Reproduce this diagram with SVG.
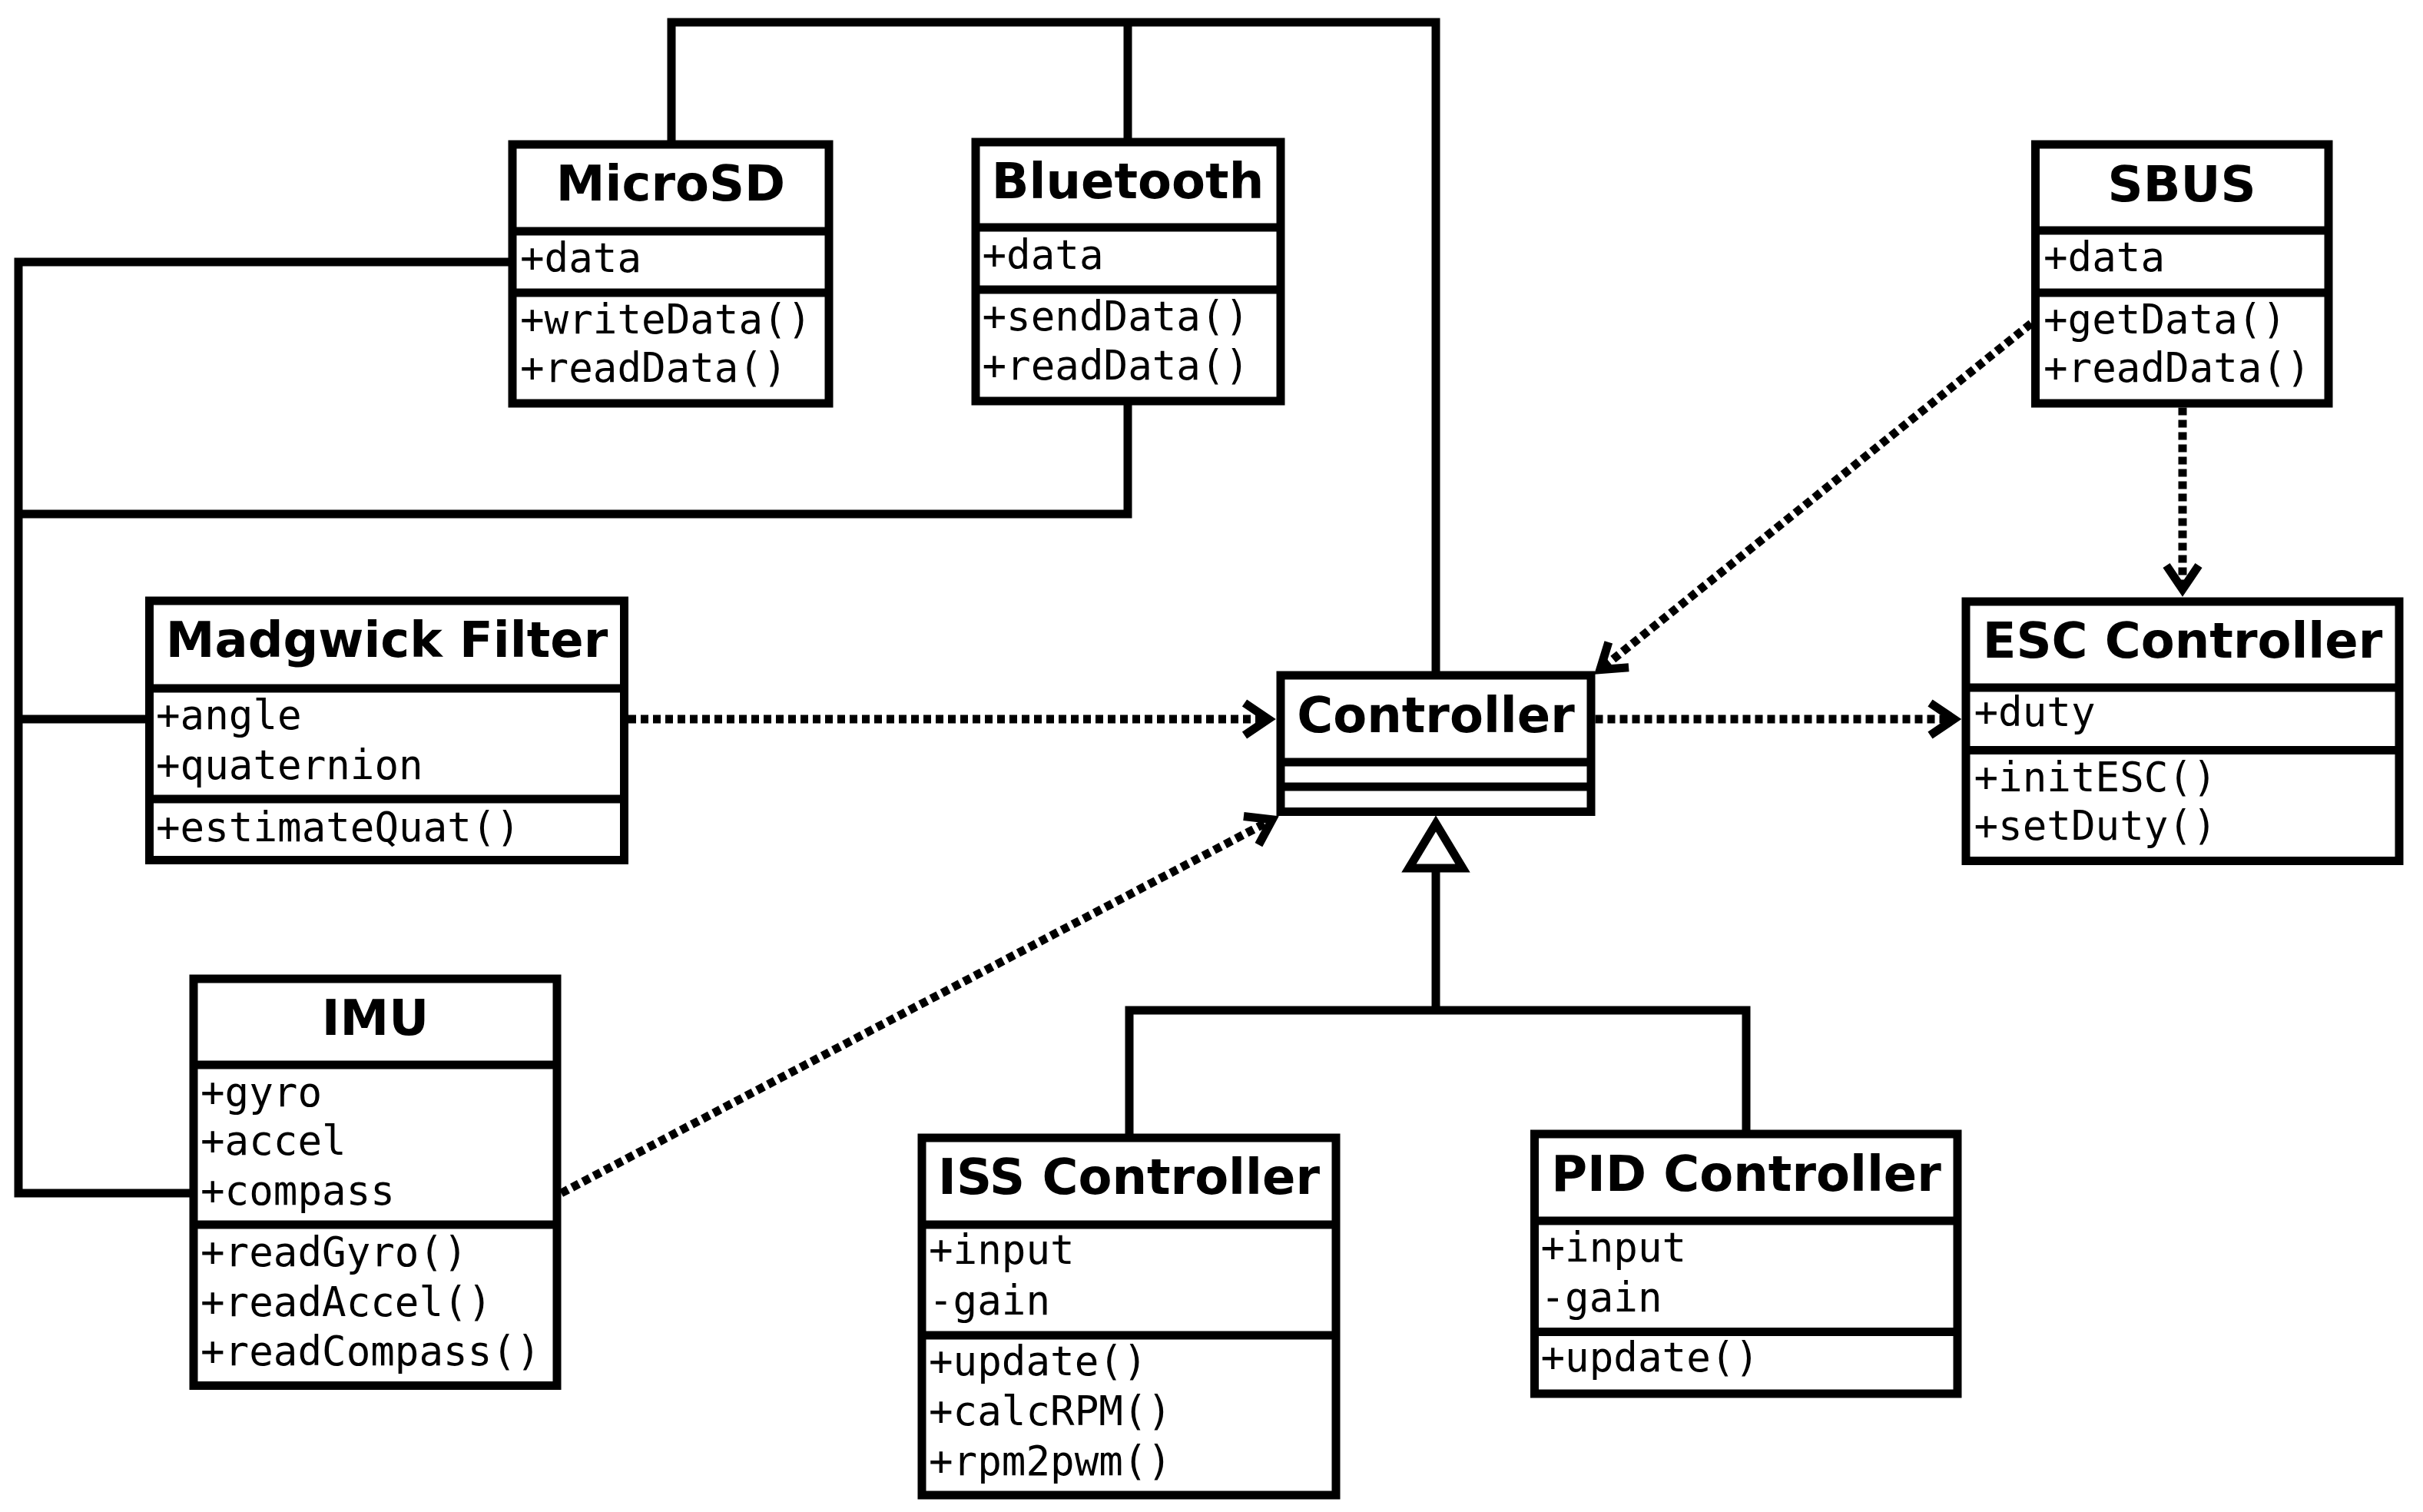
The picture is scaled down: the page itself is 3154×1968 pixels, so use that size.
<svg xmlns="http://www.w3.org/2000/svg" width="3154" height="1968" viewBox="0 0 3154 1968">
<style>
.box{fill:#fff;stroke:#000;stroke-width:11}
.sep{stroke:#000;stroke-width:11}
.title{font-family:"DejaVu Sans","Liberation Sans",sans-serif;font-weight:bold;font-size:64px;text-anchor:middle;fill:#000}
.mem{font-family:"DejaVu Sans Mono","Liberation Mono",monospace;font-size:52.5px;fill:#000}
.conn{fill:none;stroke:#000;stroke-width:11;stroke-linejoin:miter}
.dep{stroke-dasharray:10 6}
.tri{fill:#fff;stroke:#000;stroke-width:11;stroke-linejoin:miter}
</style>
<defs>
<marker id="arr" markerUnits="userSpaceOnUse" orient="auto" markerWidth="60" markerHeight="60" viewBox="-50 -30 60 60" refX="0" refY="0" overflow="visible">
<path d="M-31,-21 L0,0 L-31,21" fill="none" stroke="#000" stroke-width="11" stroke-linejoin="miter"/>
</marker>
</defs>
<rect width="3154" height="1968" fill="#fff"/>
<g id="connectors">
<path class="conn" d="M874,188 V29 H1869 V879"/>
<path class="conn" d="M1468,29 V185"/>
<path class="conn" d="M667,341 H24 V1553 H252"/>
<path class="conn" d="M24,669 H1468 V522"/>
<path class="conn" d="M24,936 H194.5"/>
<path class="conn" d="M1869,1130 V1315"/>
<path class="conn" d="M1470,1481 V1315 H2273 V1476"/>
<polygon class="tri" points="1869,1072 1834,1130 1904,1130"/>
<path class="conn dep" d="M818,936 H1651" marker-end="url(#arr)"/>
<path class="conn dep" d="M2076.5,936 H2543.5" marker-end="url(#arr)"/>
<path class="conn dep" d="M2841,530.5 V767" marker-end="url(#arr)"/>
<path class="conn dep" d="M2644,421 L2082.8,871.7" marker-end="url(#arr)"/>
<path class="conn dep" d="M730.5,1553 L1656.1,1066.7" marker-end="url(#arr)"/>
</g>
<g id="microsd">
<rect class="box" x="667" y="188" width="412" height="337"/>
<line class="sep" x1="667" y1="301" x2="1079" y2="301"/>
<line class="sep" x1="667" y1="381" x2="1079" y2="381"/>
<text class="title" x="873" y="261">MicroSD</text>
<text class="mem" x="677" y="354">+data</text>
<text class="mem" x="677" y="434">+writeData()</text>
<text class="mem" x="677" y="497">+readData()</text>
</g>
<g id="bluetooth">
<rect class="box" x="1270" y="185" width="397" height="337"/>
<line class="sep" x1="1270" y1="296" x2="1667" y2="296"/>
<line class="sep" x1="1270" y1="377" x2="1667" y2="377"/>
<text class="title" x="1468" y="258">Bluetooth</text>
<text class="mem" x="1278.5" y="350">+data</text>
<text class="mem" x="1278.5" y="430">+sendData()</text>
<text class="mem" x="1278.5" y="494">+readData()</text>
</g>
<g id="sbus">
<rect class="box" x="2649.5" y="188" width="381.5" height="337"/>
<line class="sep" x1="2649.5" y1="300" x2="3031" y2="300"/>
<line class="sep" x1="2649.5" y1="381" x2="3031" y2="381"/>
<text class="title" x="2840" y="261.5">SBUS</text>
<text class="mem" x="2660" y="353">+data</text>
<text class="mem" x="2660" y="434">+getData()</text>
<text class="mem" x="2660" y="497">+readData()</text>
</g>
<g id="madgwick">
<rect class="box" x="194.5" y="782" width="618" height="337.5"/>
<line class="sep" x1="194.5" y1="896" x2="812.5" y2="896"/>
<line class="sep" x1="194.5" y1="1040" x2="812.5" y2="1040"/>
<text class="title" x="503.5" y="855">Madgwick Filter</text>
<text class="mem" x="203" y="949">+angle</text>
<text class="mem" x="203" y="1014">+quaternion</text>
<text class="mem" x="203" y="1095">+estimateQuat()</text>
</g>
<g id="controller">
<rect class="box" x="1667" y="879" width="404" height="177.5"/>
<line class="sep" x1="1667" y1="992" x2="2071" y2="992"/>
<line class="sep" x1="1667" y1="1024" x2="2071" y2="1024"/>
<text class="title" x="1869" y="953">Controller</text>
</g>
<g id="esc">
<rect class="box" x="2559" y="783" width="564" height="337.5"/>
<line class="sep" x1="2559" y1="895" x2="3123" y2="895"/>
<line class="sep" x1="2559" y1="976.5" x2="3123" y2="976.5"/>
<text class="title" x="2841" y="855.5">ESC Controller</text>
<text class="mem" x="2569.5" y="945">+duty</text>
<text class="mem" x="2569.5" y="1030">+initESC()</text>
<text class="mem" x="2569.5" y="1093">+setDuty()</text>
</g>
<g id="imu">
<rect class="box" x="252" y="1274" width="473" height="529.5"/>
<line class="sep" x1="252" y1="1386" x2="725" y2="1386"/>
<line class="sep" x1="252" y1="1594" x2="725" y2="1594"/>
<text class="title" x="488.5" y="1347">IMU</text>
<text class="mem" x="261" y="1440">+gyro</text>
<text class="mem" x="261" y="1503">+accel</text>
<text class="mem" x="261" y="1568">+compass</text>
<text class="mem" x="261" y="1648">+readGyro()</text>
<text class="mem" x="261" y="1712.5">+readAccel()</text>
<text class="mem" x="261" y="1777">+readCompass()</text>
</g>
<g id="iss">
<rect class="box" x="1200" y="1481" width="539" height="465"/>
<line class="sep" x1="1200" y1="1594" x2="1739" y2="1594"/>
<line class="sep" x1="1200" y1="1738" x2="1739" y2="1738"/>
<text class="title" x="1469.5" y="1553.5">ISS Controller</text>
<text class="mem" x="1209" y="1645">+input</text>
<text class="mem" x="1209" y="1711">-gain</text>
<text class="mem" x="1209" y="1790">+update()</text>
<text class="mem" x="1209" y="1855">+calcRPM()</text>
<text class="mem" x="1209" y="1919.5">+rpm2pwm()</text>
</g>
<g id="pid">
<rect class="box" x="1997.5" y="1476" width="550.5" height="338"/>
<line class="sep" x1="1997.5" y1="1589" x2="2548" y2="1589"/>
<line class="sep" x1="1997.5" y1="1733.5" x2="2548" y2="1733.5"/>
<text class="title" x="2273" y="1550">PID Controller</text>
<text class="mem" x="2005.5" y="1641.5">+input</text>
<text class="mem" x="2005.5" y="1707">-gain</text>
<text class="mem" x="2005.5" y="1785">+update()</text>
</g>
</svg>
